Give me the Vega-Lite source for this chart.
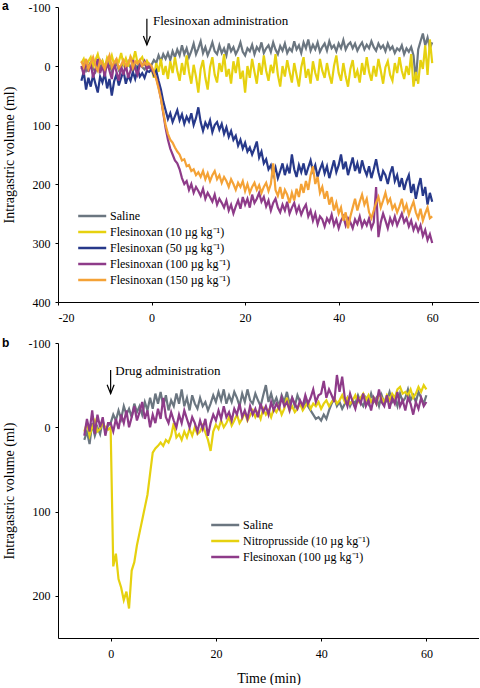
{
"$schema": "https://vega.github.io/schema/vega-lite/v6.json",
"padding": {"left": 2, "top": 0, "right": 0, "bottom": 0},
"background": "white",
"config": {
  "view": {"stroke": null},
  "font": "Liberation Serif",
  "axis": {"domainColor": "black", "tickColor": "black", "labelColor": "black", "labelFont": "Liberation Serif", "labelFontSize": 12, "titleFont": "Liberation Serif", "titleFontSize": 14, "titleFontWeight": "normal", "titleColor": "black", "grid": false, "tickSize": 3, "domainWidth": 1, "tickWidth": 1, "labelExpr": "'' + datum.value"},
  "axisX": {"labelPadding": 7, "titlePadding": 12},
  "axisY": {"labelPadding": 5, "titlePadding": 12},
  "legend": {"labelFont": "Liberation Serif", "labelFontSize": 12, "labelColor": "black", "rowPadding": 4, "padding": 0, "symbolType": "M-1,0H9", "symbolSize": 31.4, "symbolStrokeWidth": 2.5, "labelOffset": 23, "title": null},
  "title": {"font": "Liberation Sans", "fontSize": 12, "fontWeight": "bold", "color": "black", "anchor": "start", "frame": "bounds"}
},
"datasets": {
  "a": [
{"t":-15,"s":5,"f10":-5,"f50":25,"f100":0,"f150":-8},
{"t":-14.5,"s":-3,"f10":-12,"f50":10,"f100":15,"f150":2},
{"t":-14,"s":8,"f10":2,"f50":40,"f100":-10,"f150":-12},
{"t":-13.5,"s":0,"f10":-8,"f50":20,"f100":10,"f150":5},
{"t":-13,"s":-6,"f10":-15,"f50":35,"f100":-5,"f150":-5},
{"t":-12.5,"s":4,"f10":0,"f50":15,"f100":20,"f150":-15},
{"t":-12,"s":10,"f10":-10,"f50":30,"f100":5,"f150":0},
{"t":-11.5,"s":-2,"f10":-20,"f50":45,"f100":-12,"f150":8},
{"t":-11,"s":3,"f10":-4,"f50":18,"f100":12,"f150":-10},
{"t":-10.5,"s":-8,"f10":-9,"f50":28,"f100":0,"f150":-3},
{"t":-10,"s":6,"f10":3,"f50":12,"f100":18,"f150":5},
{"t":-9.5,"s":1,"f10":-14,"f50":38,"f100":-8,"f150":-8},
{"t":-9,"s":-4,"f10":-6,"f50":22,"f100":8,"f150":-18},
{"t":-8.5,"s":9,"f10":-18,"f50":50,"f100":22,"f150":2},
{"t":-8,"s":2,"f10":-2,"f50":26,"f100":-5,"f150":-6},
{"t":-7.5,"s":-5,"f10":-11,"f50":14,"f100":10,"f150":-12},
{"t":-7,"s":7,"f10":-7,"f50":33,"f100":25,"f150":4},
{"t":-6.5,"s":0,"f10":-22,"f50":20,"f100":0,"f150":-2},
{"t":-6,"s":-3,"f10":-3,"f50":8,"f100":15,"f150":-10},
{"t":-5.5,"s":5,"f10":-13,"f50":30,"f100":-3,"f150":0},
{"t":-5,"s":-7,"f10":1,"f50":16,"f100":20,"f150":-5},
{"t":-4.5,"s":3,"f10":-16,"f50":25,"f100":8,"f150":-14},
{"t":-4,"s":8,"f10":-8,"f50":10,"f100":-10,"f150":3},
{"t":-3.5,"s":-2,"f10":-25,"f50":22,"f100":5,"f150":-8},
{"t":-3,"s":4,"f10":-5,"f50":5,"f100":15,"f150":-4},
{"t":-2.5,"s":-6,"f10":-10,"f50":18,"f100":-2,"f150":-10},
{"t":-2,"s":2,"f10":-15,"f50":12,"f100":0,"f150":0},
{"t":-1.5,"s":6,"f10":-3,"f50":20,"f100":-8,"f150":-6},
{"t":-1,"s":-1,"f10":-9,"f50":8,"f100":5,"f150":-2},
{"t":-0.5,"s":3,"f10":-2,"f50":10,"f100":0,"f150":-4},
{"t":0,"s":-2,"f10":5,"f50":5,"f100":5,"f150":0},
{"t":0.5,"s":-10,"f10":20,"f50":15,"f100":12,"f150":10},
{"t":1,"s":-5,"f10":-5,"f50":8,"f100":20,"f150":22},
{"t":1.5,"s":-18,"f10":10,"f50":25,"f100":35,"f150":38},
{"t":2,"s":-8,"f10":-12,"f50":40,"f100":55,"f150":55},
{"t":2.5,"s":-20,"f10":15,"f50":60,"f100":80,"f150":78},
{"t":3,"s":-12,"f10":0,"f50":75,"f100":105,"f150":100},
{"t":3.5,"s":-22,"f10":22,"f50":90,"f100":125,"f150":115},
{"t":4,"s":-10,"f10":-8,"f50":80,"f100":140,"f150":125},
{"t":4.5,"s":-25,"f10":12,"f50":95,"f100":150,"f150":130},
{"t":5,"s":-15,"f10":-15,"f50":85,"f100":160,"f150":138},
{"t":5.5,"s":-28,"f10":8,"f50":75,"f100":165,"f150":145},
{"t":6,"s":-18,"f10":25,"f50":92,"f100":175,"f150":150},
{"t":6.5,"s":-35,"f10":-5,"f50":82,"f100":190,"f150":160},
{"t":7,"s":-20,"f10":15,"f50":98,"f100":200,"f150":158},
{"t":7.5,"s":-30,"f10":-18,"f50":86,"f100":195,"f150":170},
{"t":8,"s":-15,"f10":10,"f50":94,"f100":210,"f150":168},
{"t":8.5,"s":-25,"f10":30,"f50":80,"f100":200,"f150":178},
{"t":9,"s":-38,"f10":-2,"f50":100,"f100":215,"f150":175},
{"t":9.5,"s":-20,"f10":18,"f50":88,"f100":205,"f150":185},
{"t":10,"s":-30,"f10":45,"f50":70,"f100":212,"f150":180},
{"t":10.5,"s":-42,"f10":5,"f50":95,"f100":220,"f150":188},
{"t":11,"s":-22,"f10":-10,"f50":110,"f100":208,"f150":178},
{"t":11.5,"s":-32,"f10":20,"f50":96,"f100":225,"f150":192},
{"t":12,"s":-18,"f10":40,"f50":104,"f100":215,"f150":182},
{"t":12.5,"s":-28,"f10":2,"f50":92,"f100":222,"f150":195},
{"t":13,"s":-40,"f10":-15,"f50":112,"f100":230,"f150":185},
{"t":13.5,"s":-25,"f10":15,"f50":100,"f100":218,"f150":178},
{"t":14,"s":-20,"f10":28,"f50":95,"f100":235,"f150":192},
{"t":14.5,"s":-35,"f10":-5,"f50":108,"f100":225,"f150":185},
{"t":15,"s":-22,"f10":10,"f50":98,"f100":232,"f150":198},
{"t":15.5,"s":-30,"f10":-20,"f50":115,"f100":240,"f150":188},
{"t":16,"s":-18,"f10":18,"f50":104,"f100":228,"f150":195},
{"t":16.5,"s":-38,"f10":5,"f50":120,"f100":245,"f150":205},
{"t":17,"s":-25,"f10":30,"f50":110,"f100":235,"f150":192},
{"t":17.5,"s":-32,"f10":-8,"f50":125,"f100":250,"f150":200},
{"t":18,"s":-20,"f10":12,"f50":118,"f100":238,"f150":210},
{"t":18.5,"s":-28,"f10":-15,"f50":135,"f100":228,"f150":198},
{"t":19,"s":-40,"f10":22,"f50":125,"f100":242,"f150":205},
{"t":19.5,"s":-24,"f10":8,"f50":140,"f100":222,"f150":195},
{"t":20,"s":-18,"f10":45,"f50":130,"f100":235,"f150":212},
{"t":20.5,"s":-30,"f10":0,"f50":145,"f100":225,"f150":200},
{"t":21,"s":-25,"f10":20,"f50":138,"f100":240,"f150":215},
{"t":21.5,"s":-36,"f10":-12,"f50":150,"f100":218,"f150":205},
{"t":22,"s":-20,"f10":10,"f50":140,"f100":232,"f150":198},
{"t":22.5,"s":-32,"f10":30,"f50":128,"f100":225,"f150":210},
{"t":23,"s":-26,"f10":-5,"f50":155,"f100":215,"f150":202},
{"t":23.5,"s":-40,"f10":15,"f50":145,"f100":230,"f150":215},
{"t":24,"s":-22,"f10":-18,"f50":165,"f100":222,"f150":205},
{"t":24.5,"s":-30,"f10":8,"f50":158,"f100":238,"f150":198},
{"t":25,"s":-35,"f10":25,"f50":175,"f100":228,"f150":212},
{"t":25.5,"s":-24,"f10":-2,"f50":168,"f100":245,"f150":200},
{"t":26,"s":-40,"f10":12,"f50":185,"f100":232,"f150":165},
{"t":26.5,"s":-28,"f10":-20,"f50":172,"f100":225,"f150":210},
{"t":27,"s":-20,"f10":15,"f50":190,"f100":240,"f150":220},
{"t":27.5,"s":-34,"f10":35,"f50":178,"f100":248,"f150":205},
{"t":28,"s":-26,"f10":0,"f50":165,"f100":235,"f150":225},
{"t":28.5,"s":-38,"f10":18,"f50":185,"f100":245,"f150":210},
{"t":29,"s":-22,"f10":-10,"f50":170,"f100":230,"f150":218},
{"t":29.5,"s":-30,"f10":10,"f50":182,"f100":250,"f150":232},
{"t":30,"s":-25,"f10":28,"f50":150,"f100":240,"f150":215},
{"t":30.5,"s":-42,"f10":-5,"f50":175,"f100":232,"f150":228},
{"t":31,"s":-28,"f10":15,"f50":188,"f100":248,"f150":208},
{"t":31.5,"s":-35,"f10":35,"f50":168,"f100":238,"f150":222},
{"t":32,"s":-22,"f10":2,"f50":180,"f100":252,"f150":200},
{"t":32.5,"s":-40,"f10":-15,"f50":165,"f100":242,"f150":215},
{"t":33,"s":-30,"f10":20,"f50":185,"f100":235,"f150":195},
{"t":33.5,"s":-45,"f10":5,"f50":172,"f100":255,"f150":210},
{"t":34,"s":-26,"f10":30,"f50":160,"f100":245,"f150":185},
{"t":34.5,"s":-36,"f10":-8,"f50":178,"f100":262,"f150":170},
{"t":35,"s":-28,"f10":12,"f50":168,"f100":250,"f150":200},
{"t":35.5,"s":-40,"f10":25,"f50":188,"f100":268,"f150":188},
{"t":36,"s":-24,"f10":-12,"f50":175,"f100":255,"f150":215},
{"t":36.5,"s":-32,"f10":8,"f50":165,"f100":260,"f150":205},
{"t":37,"s":-38,"f10":20,"f50":182,"f100":272,"f150":225},
{"t":37.5,"s":-26,"f10":-5,"f50":170,"f100":258,"f150":212},
{"t":38,"s":-42,"f10":15,"f50":190,"f100":265,"f150":235},
{"t":38.5,"s":-30,"f10":30,"f50":175,"f100":252,"f150":222},
{"t":39,"s":-35,"f10":0,"f50":160,"f100":270,"f150":245},
{"t":39.5,"s":-25,"f10":-18,"f50":180,"f100":260,"f150":232},
{"t":40,"s":-38,"f10":12,"f50":168,"f100":275,"f150":250},
{"t":40.5,"s":-30,"f10":25,"f50":150,"f100":262,"f150":240},
{"t":41,"s":-44,"f10":-5,"f50":175,"f100":255,"f150":262},
{"t":41.5,"s":-28,"f10":18,"f50":162,"f100":270,"f150":248},
{"t":42,"s":-36,"f10":35,"f50":185,"f100":258,"f150":275},
{"t":42.5,"s":-40,"f10":5,"f50":170,"f100":265,"f150":255},
{"t":43,"s":-30,"f10":-10,"f50":155,"f100":275,"f150":240},
{"t":43.5,"s":-38,"f10":20,"f50":178,"f100":260,"f150":225},
{"t":44,"s":-26,"f10":8,"f50":165,"f100":268,"f150":245},
{"t":44.5,"s":-34,"f10":28,"f50":182,"f100":255,"f150":230},
{"t":45,"s":-40,"f10":-5,"f50":160,"f100":272,"f150":218},
{"t":45.5,"s":-28,"f10":15,"f50":175,"f100":262,"f150":235},
{"t":46,"s":-36,"f10":-15,"f50":185,"f100":270,"f150":225},
{"t":46.5,"s":-30,"f10":10,"f50":170,"f100":258,"f150":248},
{"t":47,"s":-42,"f10":25,"f50":190,"f100":275,"f150":258},
{"t":47.5,"s":-32,"f10":0,"f50":175,"f100":265,"f150":245},
{"t":48,"s":-26,"f10":18,"f50":158,"f100":205,"f150":232},
{"t":48.5,"s":-38,"f10":-12,"f50":180,"f100":290,"f150":222},
{"t":49,"s":-30,"f10":8,"f50":195,"f100":265,"f150":240},
{"t":49.5,"s":-35,"f10":30,"f50":178,"f100":250,"f150":228},
{"t":50,"s":-25,"f10":2,"f50":185,"f100":262,"f150":215},
{"t":50.5,"s":-38,"f10":-8,"f50":200,"f100":275,"f150":232},
{"t":51,"s":-28,"f10":15,"f50":182,"f100":258,"f150":225},
{"t":51.5,"s":-33,"f10":25,"f50":170,"f100":268,"f150":242},
{"t":52,"s":-22,"f10":-5,"f50":195,"f100":255,"f150":235},
{"t":52.5,"s":-30,"f10":12,"f50":185,"f100":270,"f150":248},
{"t":53,"s":-26,"f10":-15,"f50":205,"f100":260,"f150":238},
{"t":53.5,"s":-35,"f10":8,"f50":190,"f100":250,"f150":225},
{"t":54,"s":-20,"f10":22,"f50":210,"f100":265,"f150":245},
{"t":54.5,"s":-30,"f10":0,"f50":195,"f100":258,"f150":235},
{"t":55,"s":-24,"f10":15,"f50":185,"f100":272,"f150":252},
{"t":55.5,"s":-32,"f10":-20,"f50":215,"f100":262,"f150":240},
{"t":56,"s":-18,"f10":35,"f50":200,"f100":278,"f150":230},
{"t":56.5,"s":25,"f10":10,"f50":225,"f100":268,"f150":248},
{"t":57,"s":-28,"f10":30,"f50":205,"f100":280,"f150":258},
{"t":57.5,"s":-42,"f10":-10,"f50":190,"f100":270,"f150":242},
{"t":58,"s":-55,"f10":5,"f50":220,"f100":288,"f150":262},
{"t":58.5,"s":-35,"f10":-35,"f50":205,"f100":278,"f150":250},
{"t":59,"s":-48,"f10":15,"f50":235,"f100":295,"f150":240},
{"t":59.5,"s":-30,"f10":-45,"f50":215,"f100":285,"f150":258},
{"t":60,"s":-40,"f10":-5,"f50":230,"f100":300,"f150":255}
  ],
  "b": [
{"t":-5,"s":15,"n":5,"f":10},
{"t":-4.5,"s":5,"n":-5,"f":-10},
{"t":-4,"s":20,"n":10,"f":5},
{"t":-3.5,"s":-5,"n":0,"f":-20},
{"t":-3,"s":10,"n":-8,"f":8},
{"t":-2.5,"s":0,"n":5,"f":-15},
{"t":-2,"s":8,"n":2,"f":0},
{"t":-1.5,"s":-8,"n":-5,"f":-12},
{"t":-1,"s":5,"n":0,"f":10},
{"t":-0.5,"s":-2,"n":3,"f":-5},
{"t":0,"s":-5,"n":0,"f":-5},
{"t":0.5,"s":-15,"n":165,"f":5},
{"t":1,"s":-8,"n":150,"f":-10},
{"t":1.5,"s":-20,"n":180,"f":2},
{"t":2,"s":-10,"n":190,"f":-15},
{"t":2.5,"s":-25,"n":205,"f":-5},
{"t":3,"s":-15,"n":195,"f":-20},
{"t":3.5,"s":-22,"n":215,"f":0},
{"t":4,"s":-12,"n":170,"f":-12},
{"t":4.5,"s":-28,"n":160,"f":-25},
{"t":5,"s":-18,"n":140,"f":-8},
{"t":5.5,"s":-25,"n":125,"f":-18},
{"t":6,"s":-15,"n":110,"f":-30},
{"t":6.5,"s":-30,"n":95,"f":-10},
{"t":7,"s":-20,"n":80,"f":-20},
{"t":7.5,"s":-35,"n":55,"f":0},
{"t":8,"s":-22,"n":30,"f":-15},
{"t":8.5,"s":-40,"n":25,"f":-5},
{"t":9,"s":-28,"n":22,"f":-22},
{"t":9.5,"s":-42,"n":18,"f":-10},
{"t":10,"s":-25,"n":22,"f":-35},
{"t":10.5,"s":-38,"n":15,"f":-12},
{"t":11,"s":-20,"n":18,"f":-5},
{"t":11.5,"s":-32,"n":10,"f":-18},
{"t":12,"s":-25,"n":-5,"f":-8},
{"t":12.5,"s":-40,"n":12,"f":0},
{"t":13,"s":-28,"n":8,"f":-15},
{"t":13.5,"s":-45,"n":15,"f":-5},
{"t":14,"s":-25,"n":5,"f":-20},
{"t":14.5,"s":-35,"n":12,"f":-10},
{"t":15,"s":-20,"n":2,"f":0},
{"t":15.5,"s":-38,"n":10,"f":-12},
{"t":16,"s":-28,"n":0,"f":-5},
{"t":16.5,"s":-22,"n":8,"f":5},
{"t":17,"s":-35,"n":5,"f":-8},
{"t":17.5,"s":-25,"n":-2,"f":2},
{"t":18,"s":-30,"n":6,"f":-10},
{"t":18.5,"s":-20,"n":15,"f":10},
{"t":19,"s":-28,"n":28,"f":-5},
{"t":19.5,"s":-38,"n":5,"f":-15},
{"t":20,"s":-30,"n":-3,"f":-8},
{"t":20.5,"s":-42,"n":2,"f":-20},
{"t":21,"s":-32,"n":-8,"f":-10},
{"t":21.5,"s":-45,"n":0,"f":-25},
{"t":22,"s":-28,"n":-5,"f":-12},
{"t":22.5,"s":-38,"n":-12,"f":-18},
{"t":23,"s":-30,"n":-2,"f":-8},
{"t":23.5,"s":-42,"n":-8,"f":-22},
{"t":24,"s":-35,"n":-15,"f":-15},
{"t":24.5,"s":-25,"n":-5,"f":-28},
{"t":25,"s":-40,"n":-10,"f":-12},
{"t":25.5,"s":-30,"n":-18,"f":-20},
{"t":26,"s":-45,"n":-8,"f":-10},
{"t":26.5,"s":-32,"n":-14,"f":-25},
{"t":27,"s":-28,"n":-20,"f":-15},
{"t":27.5,"s":-40,"n":-12,"f":-22},
{"t":28,"s":-32,"n":-18,"f":-12},
{"t":28.5,"s":-25,"n":-10,"f":-28},
{"t":29,"s":-38,"n":-22,"f":-18},
{"t":29.5,"s":-50,"n":-15,"f":-25},
{"t":30,"s":-30,"n":-20,"f":-15},
{"t":30.5,"s":-40,"n":-12,"f":-30},
{"t":31,"s":-28,"n":-22,"f":-20},
{"t":31.5,"s":-35,"n":-18,"f":-28},
{"t":32,"s":-25,"n":-25,"f":-22},
{"t":32.5,"s":-38,"n":-15,"f":-35},
{"t":33,"s":-30,"n":-22,"f":-25},
{"t":33.5,"s":-42,"n":-35,"f":-30},
{"t":34,"s":-28,"n":-20,"f":-20},
{"t":34.5,"s":-35,"n":-25,"f":-35},
{"t":35,"s":-25,"n":-18,"f":-28},
{"t":35.5,"s":-38,"n":-22,"f":-22},
{"t":36,"s":-30,"n":-28,"f":-32},
{"t":36.5,"s":-22,"n":-20,"f":-25},
{"t":37,"s":-32,"n":-25,"f":-38},
{"t":37.5,"s":-25,"n":-30,"f":-28},
{"t":38,"s":-20,"n":-22,"f":-35},
{"t":38.5,"s":-15,"n":-28,"f":-45},
{"t":39,"s":-10,"n":-25,"f":-30},
{"t":39.5,"s":-12,"n":-30,"f":-38},
{"t":40,"s":-8,"n":-22,"f":-40},
{"t":40.5,"s":-15,"n":-28,"f":-55},
{"t":41,"s":-10,"n":-32,"f":-35},
{"t":41.5,"s":-20,"n":-25,"f":-45},
{"t":42,"s":-28,"n":-30,"f":-38},
{"t":42.5,"s":-35,"n":-35,"f":-30},
{"t":43,"s":-25,"n":-28,"f":-62},
{"t":43.5,"s":-30,"n":-32,"f":-42},
{"t":44,"s":-22,"n":-38,"f":-60},
{"t":44.5,"s":-28,"n":-30,"f":-35},
{"t":45,"s":-35,"n":-35,"f":-25},
{"t":45.5,"s":-25,"n":-28,"f":-40},
{"t":46,"s":-32,"n":-32,"f":-30},
{"t":46.5,"s":-28,"n":-38,"f":-22},
{"t":47,"s":-38,"n":-30,"f":-35},
{"t":47.5,"s":-30,"n":-35,"f":-28},
{"t":48,"s":-25,"n":-40,"f":-40},
{"t":48.5,"s":-35,"n":-32,"f":-25},
{"t":49,"s":-28,"n":-38,"f":-32},
{"t":49.5,"s":-40,"n":-30,"f":-20},
{"t":50,"s":-30,"n":-35,"f":-35},
{"t":50.5,"s":-35,"n":-28,"f":-28},
{"t":51,"s":-25,"n":-40,"f":-45},
{"t":51.5,"s":-38,"n":-35,"f":-30},
{"t":52,"s":-28,"n":-30,"f":-25},
{"t":52.5,"s":-32,"n":-38,"f":-38},
{"t":53,"s":-42,"n":-32,"f":-22},
{"t":53.5,"s":-30,"n":-40,"f":-35},
{"t":54,"s":-35,"n":-35,"f":-28},
{"t":54.5,"s":-25,"n":-45,"f":-42},
{"t":55,"s":-40,"n":-48,"f":-25},
{"t":55.5,"s":-30,"n":-40,"f":-32},
{"t":56,"s":-35,"n":-42,"f":-20},
{"t":56.5,"s":-45,"n":-38,"f":-35},
{"t":57,"s":-32,"n":-45,"f":-28},
{"t":57.5,"s":-38,"n":-35,"f":-15},
{"t":58,"s":-30,"n":-40,"f":-30},
{"t":58.5,"s":-42,"n":-48,"f":-22},
{"t":59,"s":-35,"n":-42,"f":-35},
{"t":59.5,"s":-28,"n":-50,"f":-25},
{"t":60,"s":-38,"n":-45,"f":-30}
  ]
},
"spacing": 14,
"resolve": {"scale": {"color": "independent"}, "legend": {"color": "independent"}},
"vconcat": [
  {
    "width": 421, "height": 295,
    "title": {"text": "a", "offset": -12, "font": "Liberation Sans", "fontSize": 12, "fontWeight": "bold", "anchor": "start", "frame": "bounds"},
    "layer": [
      {
        "data": {"name": "a"},
        "transform": [{"fold": ["s", "f10", "f50", "f100", "f150"], "as": ["k", "v"]}],
        "mark": {"type": "line", "strokeWidth": 2.2},
        "encoding": {
          "x": {"field": "t", "type": "quantitative", "scale": {"domain": [-20, 70], "nice": false, "zero": false}, "axis": {"values": [-20, 0, 20, 40, 60], "title": null, "labelFont": "Liberation Serif", "labelFontSize": 12, "labelExpr": "'' + datum.value"}},
          "y": {"field": "v", "type": "quantitative", "scale": {"domain": [-100, 400], "reverse": true, "nice": false, "zero": false}, "axis": {"values": [-100, 0, 100, 200, 300, 400], "title": "Intragastric volume (ml)", "labelFont": "Liberation Serif", "labelFontSize": 12, "titleFont": "Liberation Serif", "titleFontSize": 14, "labelExpr": "'' + datum.value"}},
          "color": {"field": "k", "type": "nominal", "sort": null,
            "scale": {"domain": ["s", "f10", "f50", "f100", "f150"], "range": ["#6b7680", "#e6d10f", "#27398a", "#8e3b89", "#f4a236"]},
            "legend": {"orient": "none", "legendX": 17, "legendY": 203, "labelFont": "Liberation Serif", "labelFontSize": 12, "labelExpr": "datum.value == 's' ? 'Saline' : datum.value == 'f10' ? 'Flesinoxan (10 µg kg⁻¹)' : datum.value == 'f50' ? 'Flesinoxan (50 µg kg⁻¹)' : datum.value == 'f100' ? 'Flesinoxan (100 µg kg⁻¹)' : 'Flesinoxan (150 µg kg⁻¹)'"}}
        }
      },
      {
        "data": {"values": [{"t": -1, "v": -80, "v2": -36}]},
        "mark": {"type": "rule", "color": "black", "strokeWidth": 1.2},
        "encoding": {"x": {"field": "t", "type": "quantitative"}, "y": {"field": "v", "type": "quantitative"}, "y2": {"field": "v2"}}
      },
      {
        "data": {"values": [{"t": -1, "v": -36}]},
        "mark": {"type": "point", "shape": "M-1,-2.5L0,0L1,-2.5", "filled": false, "stroke": "black", "strokeWidth": 1.2, "size": 49, "opacity": 1},
        "encoding": {"x": {"field": "t", "type": "quantitative"}, "y": {"field": "v", "type": "quantitative"}}
      },
      {
        "data": {"values": [{"t": 0.3, "v": -77, "label": "Flesinoxan administration"}]},
        "mark": {"type": "text", "align": "left", "baseline": "middle", "fontSize": 13, "font": "Liberation Serif", "color": "black"},
        "encoding": {"x": {"field": "t", "type": "quantitative"}, "y": {"field": "v", "type": "quantitative"}, "text": {"field": "label"}}
      }
    ]
  },
  {
    "width": 421, "height": 295,
    "title": {"text": "b", "offset": -13, "font": "Liberation Sans", "fontSize": 12, "fontWeight": "bold", "anchor": "start", "frame": "bounds"},
    "layer": [
      {
        "data": {"name": "b"},
        "transform": [{"fold": ["s", "n", "f"], "as": ["k", "v"]}],
        "mark": {"type": "line", "strokeWidth": 2.2},
        "encoding": {
          "x": {"field": "t", "type": "quantitative", "scale": {"domain": [-10, 70], "nice": false, "zero": false}, "axis": {"values": [0, 20, 40, 60], "title": "Time (min)", "labelFont": "Liberation Serif", "labelFontSize": 12, "titleFont": "Liberation Serif", "titleFontSize": 14, "labelExpr": "'' + datum.value"}},
          "y": {"field": "v", "type": "quantitative", "scale": {"domain": [-100, 250], "reverse": true, "nice": false, "zero": false}, "axis": {"values": [-100, 0, 100, 200], "title": "Intragastric volume (ml)", "labelFont": "Liberation Serif", "labelFontSize": 12, "titleFont": "Liberation Serif", "titleFontSize": 14, "labelExpr": "'' + datum.value"}},
          "color": {"field": "k", "type": "nominal", "sort": null,
            "scale": {"domain": ["s", "n", "f"], "range": ["#6b7680", "#e6d10f", "#8e3b89"]},
            "legend": {"orient": "none", "legendX": 150, "legendY": 176, "labelFont": "Liberation Serif", "labelFontSize": 12, "labelExpr": "datum.value == 's' ? 'Saline' : datum.value == 'n' ? 'Nitroprusside (10 µg kg⁻¹)' : 'Flesinoxan (100 µg kg⁻¹)'"}}
        }
      },
      {
        "data": {"values": [{"t": 0, "v": -68, "v2": -40}]},
        "mark": {"type": "rule", "color": "black", "strokeWidth": 1.2},
        "encoding": {"x": {"field": "t", "type": "quantitative"}, "y": {"field": "v", "type": "quantitative"}, "y2": {"field": "v2"}}
      },
      {
        "data": {"values": [{"t": 0, "v": -40}]},
        "mark": {"type": "point", "shape": "M-1,-2.5L0,0L1,-2.5", "filled": false, "stroke": "black", "strokeWidth": 1.2, "size": 49, "opacity": 1},
        "encoding": {"x": {"field": "t", "type": "quantitative"}, "y": {"field": "v", "type": "quantitative"}}
      },
      {
        "data": {"values": [{"t": 0.9, "v": -67, "label": "Drug administration"}]},
        "mark": {"type": "text", "align": "left", "baseline": "middle", "fontSize": 13, "font": "Liberation Serif", "color": "black"},
        "encoding": {"x": {"field": "t", "type": "quantitative"}, "y": {"field": "v", "type": "quantitative"}, "text": {"field": "label"}}
      }
    ]
  }
]
}
